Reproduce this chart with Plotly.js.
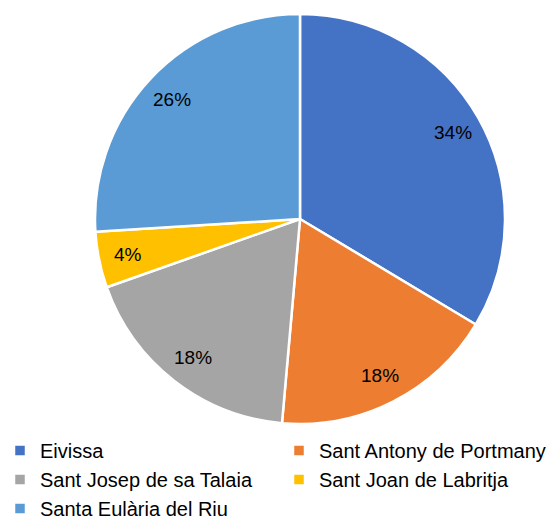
<!DOCTYPE html>
<html>
<head>
<meta charset="utf-8">
<script src="https://cdn.plot.ly/plotly-3.0.1.min.js"></script>
<style>html,body{margin:0;padding:0;background:#fff;}#chart{width:556px;height:521px;}</style>
</head>
<body>
<div id="chart"></div>
<script>
const categories = ["Eivissa", "Sant Antony de Portmany", "Sant Josep de sa Talaia", "Sant Joan de Labritja", "Santa Eulària del Riu"];
const shares = [33.6, 17.8, 18.2, 4.4, 26.0];
const colors = ["#4472C4", "#ED7D31", "#A5A5A5", "#FFC000", "#5B9BD5"];

const W = 556, H = 521;
const cx = 300, cy = 219, r = 205;
const labelRadius = 0.855;
const fontFamily = "Liberation Sans, Arial, sans-serif";

const trace = {
  type: "pie",
  labels: categories,
  values: shares,
  sort: false,
  direction: "clockwise",
  rotation: 0,
  marker: { colors: colors, line: { color: "#ffffff", width: 2.5 } },
  textinfo: "none",
  hoverinfo: "label+percent",
  domain: { x: [(cx - r) / W, (cx + r) / W], y: [1 - (cy + r) / H, 1 - (cy - r) / H] }
};

// percentage labels placed along each slice's mid-angle, derived from the values
const total = shares.reduce((a, b) => a + b, 0);
let cum = 0;
const annotations = shares.map((v) => {
  const mid = (cum + v / 2) / total * 2 * Math.PI;
  cum += v;
  const px = cx + labelRadius * r * Math.sin(mid);
  const py = cy - labelRadius * r * Math.cos(mid);
  return {
    xref: "paper", yref: "paper",
    x: px / W, y: 1 - py / H,
    xanchor: "center", yanchor: "middle",
    text: Math.round(v / total * 100) + "%",
    showarrow: false,
    font: { family: fontFamily, size: 19, color: "#000000" }
  };
});

const layout = {
  width: W, height: H,
  margin: { l: 0, r: 0, t: 0, b: 0, autoexpand: false },
  paper_bgcolor: "#ffffff",
  showlegend: true,
  annotations: annotations,
  legend: {
    orientation: "h",
    x: 0, xanchor: "left",
    y: 1 - 431 / H, yanchor: "top",
    entrywidth: 234, entrywidthmode: "pixels",
    traceorder: "normal",
    font: { family: fontFamily, size: 20, color: "#000000" },
    itemwidth: 30
  }
};

Plotly.newPlot("chart", [trace], layout, { displayModeBar: false, staticPlot: true });
</script>
</body>
</html>
